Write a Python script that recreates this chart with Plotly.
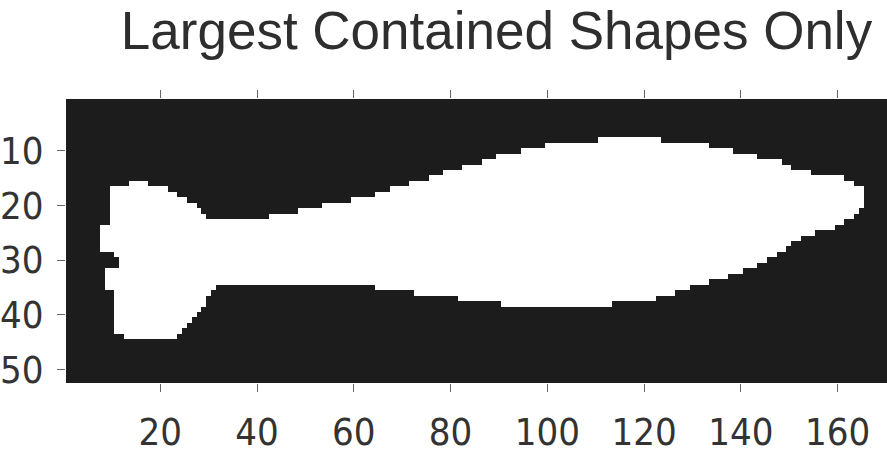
import numpy as np
import plotly.graph_objects as go

# ---- data (binary image, rows x columns) ----
n_rows = 52
n_cols = 170

# body + stem: first white row per column range (col_from, col_to, row)
body_top = [(30, 42, 23), (43, 48, 22), (49, 53, 21), (54, 59, 20), (60, 64, 19),
            (65, 67, 18), (68, 71, 17), (72, 75, 16), (76, 78, 15), (79, 82, 14),
            (83, 86, 13), (87, 89, 12), (90, 94, 11), (95, 99, 10), (100, 110, 9),
            (111, 123, 8), (124, 133, 9), (134, 138, 10), (139, 143, 11), (144, 148, 12),
            (149, 150, 13), (151, 154, 14), (155, 161, 15), (162, 163, 16), (164, 165, 17)]

# body + stem: last white row per column range
body_bottom = [(30, 64, 34), (65, 72, 35), (73, 81, 36), (82, 90, 37), (91, 113, 38),
               (114, 122, 37), (123, 126, 36), (127, 129, 35), (130, 133, 34), (134, 137, 33),
               (138, 140, 32), (141, 143, 31), (144, 145, 30), (146, 147, 29), (148, 149, 28),
               (150, 150, 27), (151, 152, 26), (153, 155, 25), (156, 159, 24), (160, 161, 23),
               (162, 163, 22), (164, 164, 21), (165, 165, 20)]

# head: (row, first white col, last white col)
head_rows = [(16, 14, 17), (17, 10, 21), (18, 10, 23), (19, 10, 25), (20, 10, 27),
             (21, 10, 28), (22, 10, 29), (23, 10, 31), (24, 8, 31), (25, 8, 31),
             (26, 8, 31), (27, 8, 31), (28, 8, 31), (29, 11, 31), (30, 12, 31),
             (31, 12, 31), (32, 9, 31), (33, 9, 31), (34, 9, 31), (35, 9, 31),
             (36, 11, 30), (37, 11, 29), (38, 11, 29), (39, 11, 28), (40, 11, 27),
             (41, 11, 26), (42, 11, 25), (43, 11, 24), (44, 13, 23)]

x_ticks = [20, 40, 60, 80, 100, 120, 140, 160]
y_ticks = [10, 20, 30, 40, 50]
title_text = "Largest Contained Shapes Only"

# ---- build the mask ----
mask = np.zeros((n_rows, n_cols))
top = {}
bot = {}
for c0, c1, r in body_top:
    for c in range(c0, c1 + 1):
        top[c] = r
for c0, c1, r in body_bottom:
    for c in range(c0, c1 + 1):
        bot[c] = r
for c in top:
    if c in bot:
        mask[top[c] - 1:bot[c], c - 1] = 1
for r, c0, c1 in head_rows:
    mask[r - 1, c0 - 1:c1] = 1

xs = list(range(1, n_cols + 1))
ys = list(range(1, n_rows + 1))

fig = go.Figure(go.Heatmap(
    z=mask, x=xs, y=ys,
    colorscale=[[0, "#1c1c1c"], [1, "#ffffff"]],
    zmin=0, zmax=1, showscale=False, hoverinfo="skip",
))

tick_font = dict(family="DejaVu Sans Condensed, Liberation Sans, Arial",
                 size=38, color="#333333")

fig.update_layout(
    width=887, height=454,
    margin=dict(l=62, r=0, t=99, b=61),
    paper_bgcolor="white", plot_bgcolor="white",
    title=dict(text=title_text, x=496.5 / 887, xanchor="center", xref="container",
               y=1 - 30 / 454, yanchor="middle", yref="container",
               font=dict(family="Liberation Sans, Arial", size=53, color="#2e2e2e")),
    showlegend=False,
)
fig.update_xaxes(range=[0.5, 170.2], tickvals=x_ticks, ticks="outside", ticklen=8,
                 tickcolor="#666", tickwidth=1, mirror="ticks", showgrid=False,
                 zeroline=False, showline=False, tickfont=tick_font, ticklabelstandoff=7)
fig.update_yaxes(range=[52.5, 0.5], tickvals=y_ticks, ticks="outside", ticklen=8,
                 tickcolor="#666", tickwidth=1, mirror="ticks", showgrid=False,
                 zeroline=False, showline=False, tickfont=tick_font, ticklabelstandoff=6)

fig.write_html("out.html")
